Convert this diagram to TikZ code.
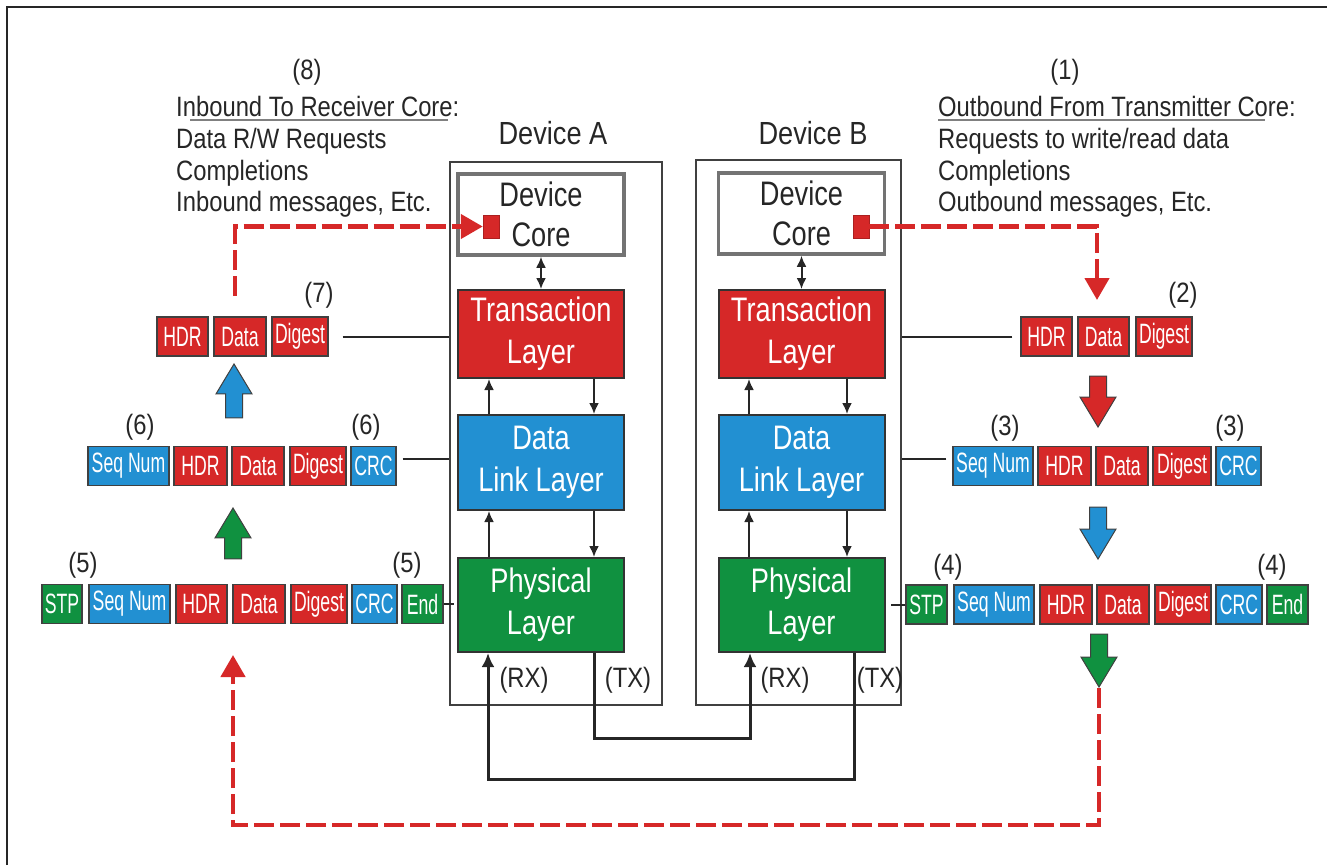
\documentclass[tikz,border=0pt]{standalone}
\usepackage{fontspec}
\setmainfont[FakeStretch=0.85]{Liberation Sans}
\newfontfamily\pktfont[FakeStretch=0.63]{Liberation Sans}
\newfontfamily\layerfont[FakeStretch=0.8]{Liberation Sans}
\usepackage{tikz}
\usetikzlibrary{shapes,positioning,calc}
\usetikzlibrary{arrows.meta}
\definecolor{pcired}{RGB}{214,40,40}
\definecolor{pciblue}{RGB}{34,144,210}
\definecolor{pcigreen}{RGB}{16,145,64}
\tikzstyle{txt} = [font=\fontsize{28}{31.7}\selectfont, text=black!85, inner sep=0pt]
\tikzstyle{devlbl} = [font=\fontsize{32}{36}\selectfont, text=black!85, inner sep=0pt]
\tikzstyle{devbox} = [rectangle, draw=black!75, line width=2pt, inner sep=0pt]
\tikzstyle{corebox} = [rectangle, draw=black!55, line width=3.5pt, fill=white,
minimum width=166pt, minimum height=81pt, align=center, inner sep=0pt,
font=\layerfont\fontsize{34}{40}\selectfont, text=black!85]
\tikzstyle{layerbox} = [rectangle, draw=black!80, line width=2pt, minimum width=166pt,
align=center, inner sep=0pt, font=\layerfont\fontsize{34}{42}\selectfont, text=white]
\tikzstyle{translayer} = [layerbox, fill=pcired, minimum height=88pt]
\tikzstyle{linklayer} = [layerbox, fill=pciblue, minimum height=95pt]
\tikzstyle{phylayer} = [layerbox, fill=pcigreen, minimum height=94pt]
\tikzstyle{sq} = [rectangle, fill=pcired, draw=pcired!80!black, line width=0.5pt,
minimum width=16pt, minimum height=23pt, inner sep=0pt]
\tikzstyle{pkt} = [rectangle, draw=black!75, line width=1.2pt, minimum height=39pt,
inner sep=0pt, text=white, font=\pktfont\fontsize{28}{28}\selectfont]
\tikzstyle{pktred} = [pkt, fill=pcired]
\tikzstyle{pktblue} = [pkt, fill=pciblue]
\tikzstyle{pktgreen} = [pkt, fill=pcigreen]
\tikzstyle{fatarrow} = [single arrow, draw=black!75, line width=1pt, anchor=tip,
minimum height=52pt, minimum width=35pt, single arrow head extend=9.5pt,
single arrow tip angle=62, inner xsep=0pt, inner ysep=8pt]
\tikzstyle{flow} = [line width=2pt, draw=black!85, -{Latex[length=11pt,width=10pt]}]
\tikzstyle{dbl} = [line width=2pt, draw=black!85,
{Latex[length=11pt,width=10pt]}-{Latex[length=11pt,width=10pt]}]
\tikzstyle{link} = [line width=3pt, draw=black!85, -{Latex[length=14pt,width=13pt]}]
\tikzstyle{wire} = [line width=2pt, draw=black!85]
\tikzstyle{reddash} = [line width=4.5pt, draw=pcired, dash pattern=on 20pt off 6pt,
-{Triangle[length=22pt,width=24pt]}]

\begin{document}
\begin{tikzpicture}[x=1pt,y=-1pt]
\useasboundingbox (0,0) rectangle (1327,865);
\draw[line width=2pt, black!85] (7,865) -- (7,7) -- (1327,7);

% texts on top
\node (n8) at (307,72) [txt] {(8)};
\node (inText) at (176,157) [txt, anchor=west, align=left] {Inbound To Receiver Core:\\Data R/W Requests\\Completions\\Inbound messages, Etc.};
\draw[line width=1.5pt, black!50] (190,120) -- (448,120);
\node (n1) at (1065,72) [txt] {(1)};
\node (outText) at (938,157) [txt, anchor=west, align=left] {Outbound From Transmitter Core:\\Requests to write/read data\\Completions\\Outbound messages, Etc.};
\draw[line width=1.5pt, black!50] (938,120) -- (1265,120);

% devices
\node (labA) at (553,133) [devlbl] {Device A};
\node (labB) at (813,133) [devlbl] {Device B};
\node (devA) at (556,433.5) [devbox, minimum width=212pt, minimum height=543pt] {};
\node (devB) at (798.5,432.5) [devbox, minimum width=205pt, minimum height=545pt] {};

\node (coreA) at (541,214.5) [corebox] {Device\\Core};
\node (coreB) at (801.5,213.5) [corebox] {Device\\Core};
\node (sqA) at (491,226.5) [sq] {};
\node (sqB) at (861,226.5) [sq] {};

\node (transA) at (541,334) [translayer] {Transaction\\Layer};
\node (dllA) at (541,462.5) [linklayer] {Data\\Link Layer};
\node (phyA) at (541,605) [phylayer] {Physical\\Layer};
\node (transB) at (801.5,334) [translayer] {Transaction\\Layer};
\node (dllB) at (801.5,462.5) [linklayer] {Data\\Link Layer};
\node (phyB) at (801.5,605) [phylayer] {Physical\\Layer};

\draw[dbl] (coreA) -- (transA);
\draw[dbl] (coreB) -- (transB);
\draw[flow] ([xshift=-52pt]dllA.north) -- ([xshift=-52pt]transA.south);
\draw[flow] ([xshift=53pt]transA.south) -- ([xshift=53pt]dllA.north);
\draw[flow] ([xshift=-52pt]phyA.north) -- ([xshift=-52pt]dllA.south);
\draw[flow] ([xshift=53pt]dllA.south) -- ([xshift=53pt]phyA.north);
\draw[flow] ([xshift=-52.5pt]dllB.north) -- ([xshift=-52.5pt]transB.south);
\draw[flow] ([xshift=45.5pt]transB.south) -- ([xshift=45.5pt]dllB.north);
\draw[flow] ([xshift=-52.5pt]phyB.north) -- ([xshift=-52.5pt]dllB.south);
\draw[flow] ([xshift=45.5pt]dllB.south) -- ([xshift=45.5pt]phyB.north);

% RX / TX
\draw[link] ([xshift=53pt]phyA.south) -- ++(0,85) -| ([xshift=-51.5pt]phyB.south);
\draw[link] ([xshift=52.5pt]phyB.south) -- ++(0,126) -| ([xshift=-53pt]phyA.south);
\node (rxA) at (524,680) [txt] {(RX)};
\node (txA) at (628,680) [txt] {(TX)};
\node (rxB) at (785,680) [txt] {(RX)};
\node (txB) at (880,680) [txt] {(TX)};

% receive side (left)
\node (l7hdr) at (182.5,336.5) [pktred, minimum width=51pt] {HDR};
\node (l7data) at (240,336.5) [pktred, minimum width=52pt] {Data};
\node (l7dig) at (300,336.5) [pktred, minimum width=56pt] {Digest};
\node (n7) at (319,295) [txt] {(7)};

\node (l6seq) at (128.5,466) [pktblue, minimum width=81pt] {Seq Num};
\node (l6hdr) at (200.5,466) [pktred, minimum width=53pt] {HDR};
\node (l6data) at (258,466) [pktred, minimum width=52pt] {Data};
\node (l6dig) at (318,466) [pktred, minimum width=56pt] {Digest};
\node (l6crc) at (373.5,466) [pktblue, minimum width=45pt] {CRC};
\node (n6a) at (140,427) [txt] {(6)};
\node (n6b) at (366,427) [txt] {(6)};

\node (l5stp) at (62,604) [pktgreen, minimum width=40pt] {STP};
\node (l5seq) at (129.5,604) [pktblue, minimum width=81pt] {Seq Num};
\node (l5hdr) at (201.5,604) [pktred, minimum width=51pt] {HDR};
\node (l5data) at (259,604) [pktred, minimum width=52pt] {Data};
\node (l5dig) at (319,604) [pktred, minimum width=56pt] {Digest};
\node (l5crc) at (374.5,604) [pktblue, minimum width=45pt] {CRC};
\node (l5end) at (422.5,604) [pktgreen, minimum width=41pt] {End};
\node (n5a) at (83,565) [txt] {(5)};
\node (n5b) at (407,565) [txt] {(5)};

\node (upB) at (234,363) [fatarrow, fill=pciblue, rotate=90, minimum height=54pt] {};
\node (upG) at (233,507) [fatarrow, fill=pcigreen, rotate=90, minimum height=51pt] {};

\draw[wire] ([xshift=14pt]l7dig.east) -- (l7dig.east -| devA.west);
\draw[wire] ($(l6crc.east)+(6,-7)$) -- ($(l6crc.east -| devA.west)+(0,-7)$);
\draw[wire] (l5end.east) -- ($(l5end.east -| devA.west)+(5,0)$);

% transmit side (right)
\node (r2hdr) at (1046.5,336.5) [pktred, minimum width=51pt] {HDR};
\node (r2data) at (1103.5,336.5) [pktred, minimum width=51pt] {Data};
\node (r2dig) at (1164,336.5) [pktred, minimum width=56pt] {Digest};
\node (n2) at (1183,295) [txt] {(2)};

\node (r3seq) at (993,466) [pktblue, minimum width=80pt] {Seq Num};
\node (r3hdr) at (1064.5,466) [pktred, minimum width=53pt] {HDR};
\node (r3data) at (1122,466) [pktred, minimum width=52pt] {Data};
\node (r3dig) at (1182,466) [pktred, minimum width=58pt] {Digest};
\node (r3crc) at (1238.5,466) [pktblue, minimum width=45pt] {CRC};
\node (n3a) at (1005,428) [txt] {(3)};
\node (n3b) at (1230,428) [txt] {(3)};

\node (r4stp) at (926.5,604.5) [pktgreen, minimum width=41pt] {STP};
\node (r4seq) at (994,604.5) [pktblue, minimum width=80pt] {Seq Num};
\node (r4hdr) at (1066,604.5) [pktred, minimum width=52pt] {HDR};
\node (r4data) at (1123,604.5) [pktred, minimum width=52pt] {Data};
\node (r4dig) at (1183,604.5) [pktred, minimum width=56pt] {Digest};
\node (r4crc) at (1239,604.5) [pktblue, minimum width=46pt] {CRC};
\node (r4end) at (1287.5,604.5) [pktgreen, minimum width=41pt] {End};
\node (n4a) at (948,567) [txt] {(4)};
\node (n4b) at (1272,567) [txt] {(4)};

\node (dnR) at (1098,428) [fatarrow, fill=pcired, rotate=-90, minimum height=51pt] {};
\node (dnB) at (1098,560) [fatarrow, fill=pciblue, rotate=-90, minimum height=52pt] {};
\node (dnG) at (1099,688) [fatarrow, fill=pcigreen, rotate=-90, minimum height=53pt] {};

\draw[wire] ([xshift=-8pt]r2hdr.west) -- (r2hdr.west -| devB.east);
\draw[wire] ($(r3seq.west)+(-6,-7)$) -- ($(r3seq.west -| devB.east)+(0,-7)$);
\draw[wire] (r4stp.west) -- ($(r4stp.west -| devB.east)+(-11,0)$);

% dashed paths
\coordinate (outA) at (235,296);
\coordinate (inB) at (1097,300);
\coordinate (backA) at (233,655);
\draw[reddash] (outA) |- (sqA.west);
\draw[reddash] (sqB.east) -| (inB);
\draw[reddash] (dnG.tip) -- ++(0,137) -| (backA);
\end{tikzpicture}
\end{document}
